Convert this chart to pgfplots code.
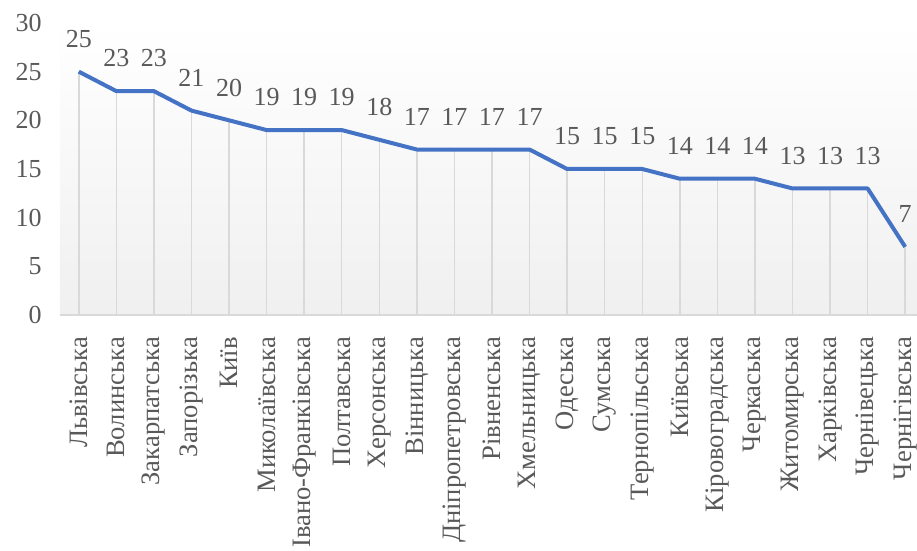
\documentclass[border=0pt]{standalone}
\usepackage{pgfplots}
\pgfplotsset{compat=1.18}
\usepackage{fontspec}
\setmainfont{Liberation Serif}
\definecolor{lineblue}{HTML}{4472C4}
\definecolor{txtgray}{HTML}{595959}
\definecolor{gridgray}{HTML}{D9D9D9}
\begin{document}
\begin{tikzpicture}[font=\fontsize{13}{15}\selectfont]
  % 1px = 0.5pt; axis box lower-left at (0,0); page = the reference's crop
  \useasboundingbox (-30pt,-118pt) rectangle (428.5pt,157.5pt);
  \begin{axis}[
    scale only axis,
    width=432pt, height=146pt,
    xmin=-0.5, xmax=22.5,
    ymin=0, ymax=30,
    ytick={0,5,...,30},
    xtick={0,...,22},
    xticklabels={Львівська,Волинська,Закарпатська,Запорізька,Київ,Миколаївська,Івано-Франківська,Полтавська,Херсонська,Вінницька,Дніпропетровська,Рівненська,Хмельницька,Одеська,Сумська,Тернопільська,Київська,Кіровоградська,Черкаська,Житомирська,Харківська,Чернівецька,Чернігівська},
    x tick label style={rotate=90, anchor=east, xshift=-7.5pt, font=\fontsize{13.3}{15}\selectfont, text=txtgray},
    y tick label style={anchor=east, xshift=-5.7pt, font=\fontsize{13}{15}\selectfont, text=txtgray},
    /pgf/number format/assume math mode=true,
    axis line style={draw=none},
    major tick style={draw=none},
    axis background/.style={top color=white, bottom color=black!6},
    clip=false,
  ]
    \addplot[ycomb, draw=gridgray, line width=0.75pt, mark=none] coordinates {
      (0,25) (1,23) (2,23) (3,21) (4,20) (5,19) (6,19) (7,19) (8,18) (9,17) (10,17)
      (11,17) (12,17) (13,15) (14,15) (15,15) (16,14) (17,14) (18,14) (19,13) (20,13)
      (21,13) (22,7)
    };
    \draw[gridgray, line width=1pt] (rel axis cs:0,0) -- (rel axis cs:1,0);
    \addplot[draw=lineblue, line width=2pt, line join=round, mark=none,
      nodes near coords,
      every node near coord/.append style={anchor=south, yshift=7.7pt, text=txtgray,
        font=\fontsize{13}{15}\selectfont},
    ] coordinates {
      (0,25) (1,23) (2,23) (3,21) (4,20) (5,19) (6,19) (7,19) (8,18) (9,17) (10,17)
      (11,17) (12,17) (13,15) (14,15) (15,15) (16,14) (17,14) (18,14) (19,13) (20,13)
      (21,13) (22,7)
    };
  \end{axis}
\end{tikzpicture}
\end{document}
